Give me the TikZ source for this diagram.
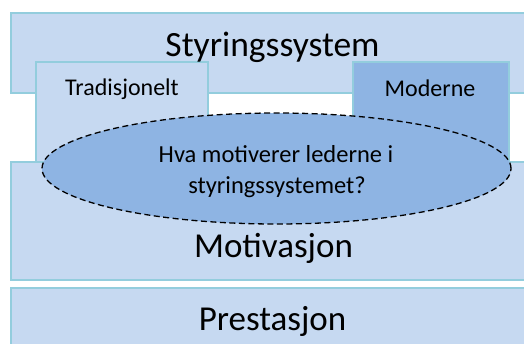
\documentclass[tikz,border=0pt]{standalone}
\usepackage{fontspec}
\setmainfont{Carlito}
\usetikzlibrary{shapes.geometric}
\definecolor{boxfill}{HTML}{C6D9F1}
\definecolor{boxedge}{HTML}{93CDDD}
\definecolor{darkfill}{HTML}{8EB4E3}
\tikzset{
  layer/.style={draw=boxedge, line width=2pt, fill=boxfill, inner sep=0pt, outer sep=0pt},
  darklayer/.style={layer, fill=darkfill},
  bubble/.style={ellipse, draw=black, line width=1.3pt, dash pattern=on 6pt off 3.5pt, fill=darkfill, inner sep=0pt},
  label/.style={anchor=base, inner sep=0pt}
}
\begin{document}
\begin{tikzpicture}[x=1pt, y=-1pt]
\useasboundingbox (0,0) rectangle (524,343);
\clip (0,0) rectangle (524,343);
% stacked layers
\node[layer, minimum width=522pt, minimum height=80pt, anchor=north west] (styr) at (11,13) {};
\node[layer, minimum width=522pt, minimum height=118pt, anchor=north west] (motiv) at (11,162) {};
\node[layer, minimum width=522pt, minimum height=70pt, anchor=north west] (prest) at (11,288) {};
% the two kinds of control system
\node[layer, minimum width=172pt, minimum height=100pt, anchor=north west] (trad) at (36,62) {};
\node[darklayer, minimum width=156pt, minimum height=100pt, anchor=north west] (mod) at (353,62) {};
% question bubble
\node[bubble, minimum width=469pt, minimum height=111pt] (q) at (276.5,168.5) {};
% texts
\node[label, font=\fontsize{35.5}{40}\selectfont] (tStyr) at (272.5,56) {Styringssystem};
\node[label, font=\fontsize{24}{28}\selectfont] (tTrad) at (122,95.5) {Tradisjonelt};
\node[label, font=\fontsize{24}{28}\selectfont] (tMod) at (430,96) {Moderne};
\node[label, font=\fontsize{24.5}{28}\selectfont] (tQ1) at (276,162) {Hva motiverer lederne i};
\node[label, font=\fontsize{24.5}{28}\selectfont] (tQ2) at (277,193) {styringssystemet?};
\node[label, font=\fontsize{35}{40}\selectfont] (tMotiv) at (273.5,257) {Motivasjon};
\node[label, font=\fontsize{35}{40}\selectfont] (tPrest) at (272.5,330) {Prestasjon};
\end{tikzpicture}
\end{document}
